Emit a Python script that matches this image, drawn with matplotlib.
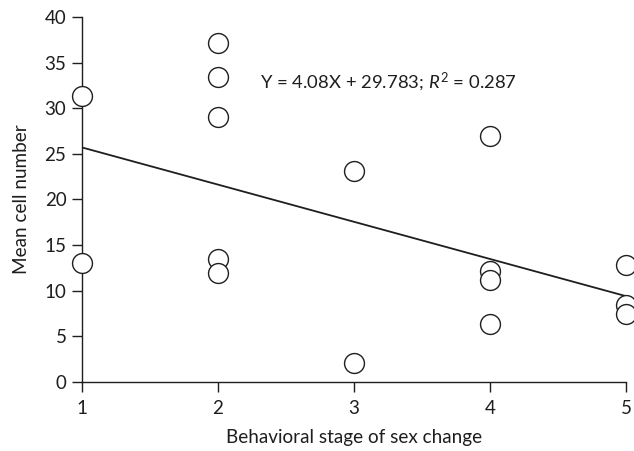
import matplotlib
matplotlib.use("Agg")
import matplotlib.pyplot as plt

plt.rcParams['font.family'] = ['Lato', 'DejaVu Sans']
plt.rcParams['mathtext.fontset'] = 'custom'
plt.rcParams['mathtext.rm'] = 'Lato'
plt.rcParams['mathtext.it'] = 'Lato:italic'

stage = [1, 1, 2, 2, 2, 2, 2, 3, 3, 4, 4, 4, 4, 5, 5, 5]
cells = [31.3, 13.0, 37.1, 33.4, 29.0, 13.5, 11.9, 23.1, 2.0, 26.9, 12.1, 11.2, 6.3, 12.8, 8.4, 7.4]
slope = -4.08
intercept = 29.783
xticks = [1, 2, 3, 4, 5]
yticks = [0, 5, 10, 15, 20, 25, 30, 35, 40]

W, H = 634, 451
fig = plt.figure(figsize=(W / 100, H / 100), dpi=100)
ax = fig.add_axes([81.7 / W, 69.3 / H, 544.3 / W, 364.7 / H])

ink = '#1e1e1e'
ax.scatter(stage, cells, s=205, facecolors='white', edgecolors=ink, linewidths=1.0, zorder=3, clip_on=False)
xl = [1, 5]
ax.plot(xl, [intercept + slope * v for v in xl], color=ink, lw=1.3, zorder=2)

ax.set_xlim(1, 5)
ax.set_ylim(0, 40)
ax.set_xticks(xticks)
ax.set_yticks(yticks)
ax.set_xticklabels([str(t) for t in xticks])
ax.set_yticklabels([str(t) for t in yticks])
for s in ['top', 'right']:
    ax.spines[s].set_visible(False)
for s in ['left', 'bottom']:
    ax.spines[s].set_linewidth(1.0)
    ax.spines[s].set_color(ink)
ax.tick_params(axis='both', direction='out', length=7, width=1.0, color=ink, labelsize=13.5, labelcolor=ink)
ax.tick_params(axis='x', pad=6)
ax.tick_params(axis='y', pad=4)

xlab = ax.set_xlabel('Behavioral stage of sex change', fontsize=14, color=ink)
ax.xaxis.label.set_va('center')
ax.xaxis.set_label_coords(0.5, (381.7 - 437) / 364.7)
ylab = ax.set_ylabel('Mean cell number', fontsize=14, color=ink)
ax.yaxis.label.set_va('center')
ax.yaxis.set_label_coords((22 - 81.7) / 544.3, 0.5)

eq = ax.text(2.31, 32.9, r'Y = 4.08X + 29.783; $\mathit{R}^2$ = 0.287', fontsize=14, color=ink, va='center', ha='left')

# fit text widths to the reference's measured widths (pixels)
fig.canvas.draw()
r = fig.canvas.get_renderer()
for t, target in [(xlab, 257.0), (eq, 257.0)]:
    w = t.get_window_extent(r).width
    t.set_fontsize(t.get_fontsize() * target / w)
ylab.set_fontsize(xlab.get_fontsize())

fig.savefig('out.png', dpi=100)
